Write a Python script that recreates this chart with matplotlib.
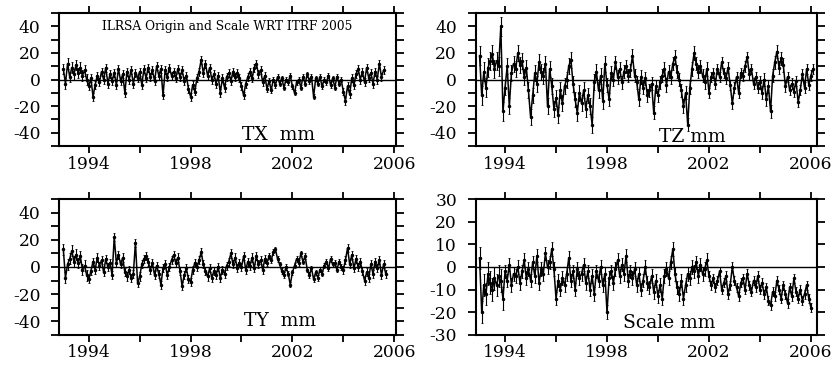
"""ILRSA origin and scale time series w.r.t. ITRF2005, four panels."""

import matplotlib as mpl
import matplotlib.pyplot as plt
import numpy as np
from matplotlib.ticker import MultipleLocator

START_YEAR = 1993.0

# monthly samples, mm
TX = [
    8, -3, 12, 2, 9, 4, 11, 5, 9, 3, 7, 0,
    -5, 1, -13, -4, 3, -2, 6, 0, 9, -3, 4, -1,
    5, -4, 8, -1, 4, -10, 6, 0, 7, -3, 5, 1,
    6, -4, 8, 1, 9, 2, 7, -1, 10, 3, 8, -12,
    7, 2, 9, 3, 6, 1, 8, 2, 7, -1, 3, -7,
    -13, -4, -9, 1, 6, 15, 5, 12, 3, 9, 0, 4,
    -3, 3, -10, 1, -6, 2, 5, -1, 6, 2, 5, 1,
    -5, -12, -3, 2, 6, 1, 9, 12, 4, 7, -2, 3,
    -7, -1, -8, 0, -4, 2, -3, 1, -6, 0, -2, 3,
    -5, -10, -2, 0, -6, 2, -3, 4, -1, 2, -13, 1,
    -3, 2, -5, 0, -2, 3, -4, 1, -6, 2, -3, 0,
    -9, -16, -5, -11, 1, -4, 4, 8, 0, 6, -2, 9,
    1, 5, -3, 6, 0, 12, 2, 7,
]

TY = [
    13, -8, 2, 6, 12, 4, 9, 3, 8, -2, 1, -6,
    -9, -3, 4, -2, 7, 1, 5, -4, 6, 0, 3, -6,
    22, 3, 9, 2, 7, -4, -7, -2, -8, -5, 18, -12,
    -7, 2, 6, 8, 4, -2, 3, -6, 1, -5, -13, -1,
    2, -6, 0, 5, 9, 3, 7, -3, -14, -6, -1, -9,
    -11, -2, 3, 0, 5, 11, 2, -3, -7, -1, -8, -3,
    -6, 0, -8, -2, -5, 1, 4, 10, 2, 7, -1, 3,
    0, 8, -2, 4, 1, 7, -1, 8, 2, 5, -2, 6,
    3, 8, 5, 11, 13, 6, 2, -3, -6, 0, -5, -13,
    -4, 1, 6, 3, 10, 4, 8, -2, -6, -1, -9, -4,
    -8, -2, -5, 1, 4, -1, 6, 2, 3, -2, 4, 0,
    -2, 5, 14, 2, 9, -1, 6, 0, 4, -3, -10, -4,
    -8, 2, -5, 4, -1, 5, -6, 2, -5,
]

TZ = [
    18, -12, 6, -6, 9, 14, 19, 8, 14, 10, 40, -24,
    -6, 10, -20, 5, 12, 8, 20, 11, 14, 2, 9, -8,
    -28, -12, 5, -3, 13, 6, 3, 12, -20, 8, -5, -22,
    -14, -27, -8, -18, -5, 0, 10, 15, -3, -15, -25, -10,
    -18, -8, -22, -12, -20, -34, -2, 6, -8, 3, -16, 12,
    -4, -15, 5, 0, 13, 2, 8, -2, 6, 10, 3, 7,
    18, 3, -2, -15, 2, -6, 1, -12, -8, -3, -25, -5,
    -12, -2, 3, 8, -4, 6, 2, 12, 17, 6, 0, -8,
    -20, -10, -34, -6, 8, 20, 12, 6, 10, 3, -2, 8,
    -10, 2, 5, -3, 8, 2, 13, 5, 1, 9, -4, -18,
    -6, 2, -10, 5, 3, 10, 17, 4, 8, -3, 2, -6,
    -2, -10, 0, -15, -5, -24, 3, 13, 21, 9, 16, 11,
    -5, 2, -8, -3, -9, -1, -17, -8, 4, -6, 8, -4,
    3, 8,
]

SCALE = [
    4, -20, -8, -12, -3, -7, -10, -5, -8, -4, -6, -14,
    -2, -6, 1, -8, -3, -4, 0, -7, -2, 3, -5, -1,
    -6, 2, -4, 5, -7, -1, -3, 6, 0, 2, 8, -1,
    -14, -6, -10, -5, -8, -3, 4, -6, -2, -10, -1, -5,
    -3, 1, -7, -2, -10, -4, -12, -2, -6, 0, -8, -3,
    -20, -5, -2, -7, -1, 3, -4, 1, -3, 5, -6, -2,
    -5, -1, -8, -3, -10, -6, 0, -7, -9, -4, -11, -6,
    -13, -8, -14, -4, -1, -5, 2, 8, -3, -9, -12, -6,
    -14, -8, -3, -5, 0, -2, 2, -4, 1, -3, -1, 3,
    -4, -8, -5, -9, -6, -2, -10, -7, -4, -12, -8, 0,
    -6, -9, -13, -7, -5, -10, -3, -8, -11, -6, -9, -4,
    -10, -7, -12, -9, -15, -17, -11, -13, -6, -10, -14, -8,
    -12, -16, -9, -13, -5, -11, -14, -10, -15, -12, -8, -14,
    -18,
]

# typical error bar half-width per calendar year from 1993, mm
TX_SIGMA = [4, 3, 3, 3, 3, 3, 3, 3, 2, 2, 2, 3, 3]
TY_SIGMA = [4, 3, 3, 3, 3, 3, 3, 3, 2, 2, 2, 3, 3]
TZ_SIGMA = [7, 6, 6, 6, 6, 5, 5, 5, 5, 4, 4, 5, 4, 4]
SCALE_SIGMA = [5, 3, 3, 3, 3, 3, 3, 3, 3, 2, 2, 2, 2, 2]

YEAR_TICKS = [1994, 1998, 2002, 2006]
TITLE = "ILRSA Origin and Scale WRT ITRF 2005"


def setup():
    mpl.rcParams.update(
        {
            "font.family": "DejaVu Serif",
            "font.size": 12.3,
            "axes.unicode_minus": False,
            "axes.linewidth": 1.5,
            "xtick.major.width": 1.3,
            "ytick.major.width": 1.3,
            "xtick.minor.width": 1.3,
            "ytick.minor.width": 1.3,
            "xtick.major.size": 5,
            "xtick.minor.size": 5,
            "ytick.major.size": 5.5,
            "ytick.minor.size": 5.5,
        }
    )


def panel(fig, rect, values, sigma, xlim, ylim, label, label_xy):
    axis = fig.add_axes(rect)
    years = START_YEAR + np.arange(len(values)) / 12.0
    errors = [sigma[int(year - START_YEAR)] for year in years]
    axis.axhline(0, color="black", linewidth=1.0, zorder=1)
    axis.errorbar(
        years,
        values,
        yerr=errors,
        color="black",
        linewidth=1.1,
        elinewidth=0.8,
        capsize=1,
        capthick=0.6,
        marker=".",
        markersize=3,
        zorder=2,
    )
    axis.set_xlim(*xlim)
    axis.set_ylim(*ylim)
    axis.set_xticks(YEAR_TICKS)
    axis.xaxis.set_minor_locator(MultipleLocator(2))
    axis.yaxis.set_major_locator(MultipleLocator(20 if ylim[1] > 30 else 10))
    axis.yaxis.set_minor_locator(MultipleLocator(10))
    axis.tick_params(which="both", direction="out", top=True, right=True)
    axis.tick_params(axis="x", which="both", pad=2)
    axis.tick_params(axis="y", which="both", pad=8)
    axis.text(*label_xy, label, ha="center", va="center", fontsize=13.5)
    return axis


def main():
    setup()
    fig = plt.figure(figsize=(8.37, 3.66), dpi=100)
    left_x = (1992.83, 2006.07)
    right_x = (1992.85, 2006.23)
    top = panel(fig, [0.0705, 0.601, 0.4026, 0.3634], TX, TX_SIGMA, left_x, (-50, 50),
                "TX  mm", (2001.45, -41.5))
    top.text(1999.45, 40, TITLE, ha="center", va="center", fontsize=8.8)
    panel(fig, [0.5684, 0.601, 0.4074, 0.3634], TZ, TZ_SIGMA, right_x, (-50, 50),
          "TZ mm", (2001.33, -43))
    panel(fig, [0.0705, 0.086, 0.4026, 0.369], TY, TY_SIGMA, left_x, (-50, 50),
          "TY  mm", (2001.5, -40))
    panel(fig, [0.5684, 0.086, 0.4074, 0.369], SCALE, SCALE_SIGMA, right_x, (-30, 30),
          "Scale mm", (2000.43, -24.7))
    fig.savefig("out.png", dpi=100, facecolor="white")
    plt.close(fig)


if __name__ == "__main__":
    main()
